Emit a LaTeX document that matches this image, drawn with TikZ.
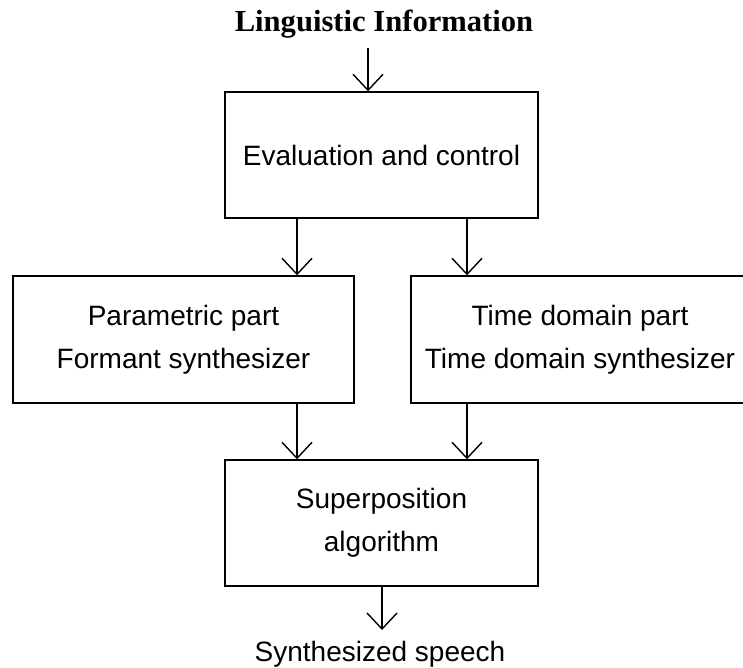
\documentclass[tikz,border=0pt]{standalone}
\usepackage{fontspec}
\setmainfont{Liberation Sans}
\newfontfamily\titlefont{Liberation Serif}
\usetikzlibrary{arrows.meta}

\tikzset{
  block/.style={draw, line width=0.7pt, align=center, inner sep=0pt,
    font=\fontsize{14}{21.5}\selectfont},
  flow/.style={line width=0.7pt, -{Straight Barb[length=8pt,width=15pt,line width=0.7pt]}}
}

\begin{document}
\begin{tikzpicture}[x=0.5pt, y=-0.5pt]
% Page frame
\useasboundingbox (0,0) rectangle (743,668);
\clip (0,0) rectangle (743,668);

% Input and output texts
\node [anchor=base, font=\titlefont\bfseries\fontsize{15.3}{18}\selectfont] (title) at (384,32) {Linguistic Information};
\node [anchor=base, font=\fontsize{14}{17}\selectfont] (speech) at (380,661) {Synthesized speech};
\coordinate (in) at (368,48);
\coordinate (out) at (382,630);

% The four blocks
\node [block, minimum width=156.5pt, minimum height=63pt] (eval) at (381.5,155) {Evaluation and control};
\node [block, minimum width=170.5pt, minimum height=63.5pt] (param) at (183.5,339.5) {Parametric part\\Formant synthesizer};
\node [block, minimum width=169pt, minimum height=63.5pt] (time) at (580,339.5) {Time domain part\\Time domain synthesizer};
\node [block, minimum width=156.5pt, minimum height=63pt] (super) at (381.5,523) {Superposition\\algorithm};

% Arrows
\draw [flow] (in) -- (in |- eval.north);
\draw [flow] (297,0 |- eval.south) -- (297,0 |- param.north);
\draw [flow] (467,0 |- eval.south) -- (467,0 |- time.north);
\draw [flow] (297,0 |- param.south) -- (297,0 |- super.north);
\draw [flow] (467,0 |- time.south) -- (467,0 |- super.north);
\draw [flow] (out |- super.south) -- (out);
\end{tikzpicture}
\end{document}
